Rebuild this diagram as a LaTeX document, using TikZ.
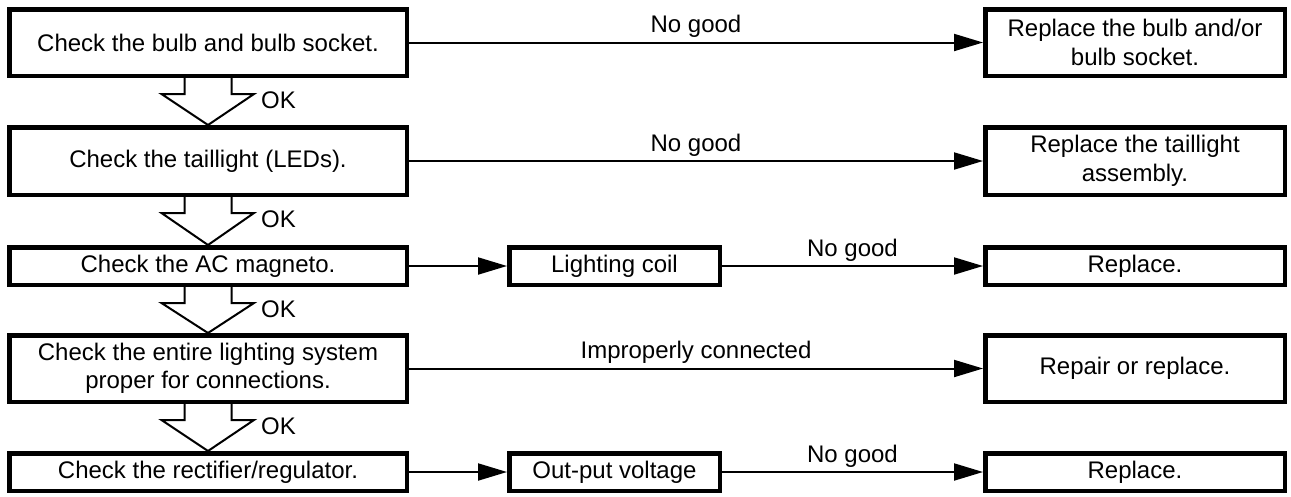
\documentclass[tikz,border=0pt]{standalone}
\usepackage{fontspec}
\setmainfont{Liberation Sans}
\usetikzlibrary{arrows.meta,calc}
\begin{document}
\begin{tikzpicture}[x=1pt,y=-1pt,
  every node/.style={font=\fontsize{24pt}{28.5pt}\selectfont},
  box/.style={draw, line width=4.5pt, inner sep=0pt, align=center},
  lbox/.style={box, minimum width=397.5pt},
  mbox/.style={box, minimum width=210.5pt},
  rbox/.style={box, minimum width=299.5pt},
  tall/.style={minimum height=66.5pt},
  short/.style={minimum height=37.5pt},
  conn/.style={line width=2pt, -{Triangle[length=29pt,width=17pt]}},
  lbl/.style={anchor=base, yshift=10pt, inner sep=0pt},
  hollow/.style={draw, line width=2pt, line join=miter},
  oklbl/.style={anchor=west, inner sep=0pt}
]
\useasboundingbox (0,0) rectangle (1291,496);

% left column
\node[lbox,tall] (l1) at (208,42.5) {Check the bulb and bulb socket.};
\node[lbox,tall,minimum height=67.5pt] (l2) at (208,161) {Check the taillight (LEDs).};
\node[lbox,short] (l3) at (208,266) {Check the AC magneto.};
\node[lbox,tall] (l4) at (208,368.5) {Check the entire lighting system\\proper for connections.};
\node[lbox,short] (l5) at (208,472) {Check the rectifier/regulator.};

% middle column
\node[mbox,short] (m3) at (614.5,266) {Lighting coil};
\node[mbox,short] (m5) at (614.5,472) {Out-put voltage};

% right column
\node[rbox,tall] (r1) at (1135,42.5) {Replace the bulb and/or\\bulb socket.};
\node[rbox,tall,minimum height=67.5pt] (r2) at (1135,161) {Replace the taillight\\assembly.};
\node[rbox,short] (r3) at (1135,266) {Replace.};
\node[rbox,tall] (r4) at (1135,368.5) {Repair or replace.};
\node[rbox,short] (r5) at (1135,472) {Replace.};

% horizontal connectors
\draw[conn] (l1) -- node[lbl] {No good} (r1);
\draw[conn] (l2) -- node[lbl] {No good} (r2);
\draw[conn] (l3) -- (m3);
\draw[conn] (m3) -- node[lbl] {No good} (r3);
\draw[conn] (l4) -- node[lbl] {Improperly connected} (r4);
\draw[conn] (l5) -- (m5);
\draw[conn] (m5) -- node[lbl] {No good} (r5);

% hollow OK arrows
\foreach \a/\b in {l1/l2,l2/l3,l3/l4,l4/l5}{
  \draw[hollow] ($(\a.south)+(-23.5,0)$) -- ++(0,16) -- ++(-23,0)
    -- (\b.north) -- ($(\a.south)+(46,16)$) -- ++(-22.5,0) -- ++(0,-16);
  \node[oklbl] (ok\a) at ($(\a.south)+(53,22)$) {OK};
}
\end{tikzpicture}
\end{document}
